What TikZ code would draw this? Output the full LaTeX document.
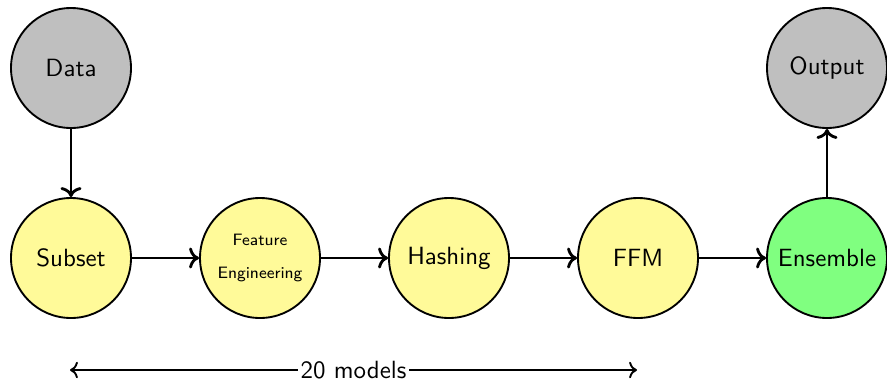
\documentclass[tikz,border=0pt]{standalone}
\usetikzlibrary{arrows.meta}
\begin{document}
\begin{tikzpicture}[x=0.425pt,y=-0.425pt,
  every node/.style={font=\sffamily\fontsize{10.6}{12.7}\selectfont},
  stage/.style={circle,draw,thick,minimum size=51pt,inner sep=0pt,fill=yellow!40},
  io/.style={stage,fill=gray!50},
  final/.style={stage,fill=green!50},
  flow/.style={->,very thick}]
\useasboundingbox (0,0) rectangle (887,380);
\node[io]    (data)   at (71,68)  {Data};
\node[stage] (subset) at (71,258) {Subset};
\node[stage,align=center,font=\sffamily\scriptsize] (feat) at (260,258) {Feature\\[6pt]Engineering};
\node[stage] (hash)   at (449,258) {Hashing};
\node[stage] (ffm)    at (638,258) {FFM};
\node[final] (ens)    at (827,258) {Ensemble};
\node[io]    (out)    at (827,68)  {Output};
\draw[flow] (data) -- (subset);
\draw[flow] (subset) -- (feat);
\draw[flow] (feat) -- (hash);
\draw[flow] (hash) -- (ffm);
\draw[flow] (ffm) -- (ens);
\draw[flow] (ens) -- (out);
\coordinate (l) at (70,370);
\coordinate (r) at (637,370);
\draw[<->,thick] (l) -- node[fill=white,inner sep=1pt] {20 models} (r);
\end{tikzpicture}
\end{document}
